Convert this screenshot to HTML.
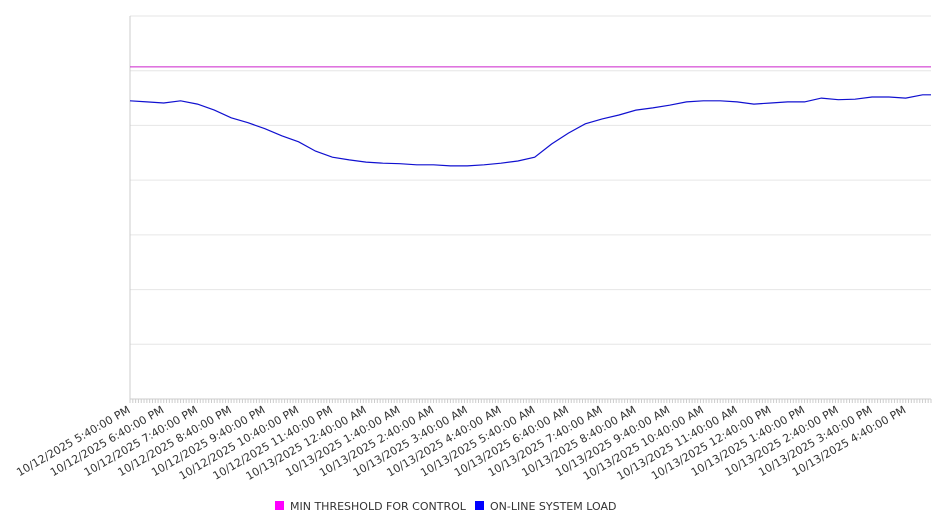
<!DOCTYPE html>
<html><head><meta charset="utf-8"><style>
body{margin:0;background:#fff;font-family:"DejaVu Sans","Liberation Sans",sans-serif}
svg text{font-family:"DejaVu Sans","Liberation Sans",sans-serif}
</style></head><body>
<svg id="chart" width="946" height="526" xmlns="http://www.w3.org/2000/svg"></svg>
<script>
const tickLabels=["10/12/2025 5:40:00 PM","10/12/2025 6:40:00 PM","10/12/2025 7:40:00 PM","10/12/2025 8:40:00 PM","10/12/2025 9:40:00 PM","10/12/2025 10:40:00 PM","10/12/2025 11:40:00 PM","10/13/2025 12:40:00 AM","10/13/2025 1:40:00 AM","10/13/2025 2:40:00 AM","10/13/2025 3:40:00 AM","10/13/2025 4:40:00 AM","10/13/2025 5:40:00 AM","10/13/2025 6:40:00 AM","10/13/2025 7:40:00 AM","10/13/2025 8:40:00 AM","10/13/2025 9:40:00 AM","10/13/2025 10:40:00 AM","10/13/2025 11:40:00 AM","10/13/2025 12:40:00 PM","10/13/2025 1:40:00 PM","10/13/2025 2:40:00 PM","10/13/2025 3:40:00 PM","10/13/2025 4:40:00 PM"];
const loadMinutes=[0,30,60,90,120,150,180,210,240,270,300,330,360,390,420,450,480,510,540,570,600,630,660,690,720,750,780,810,840,870,900,930,960,990,1020,1050,1080,1110,1140,1170,1200,1230,1260,1290,1320,1350,1380,1410,1425];
const loadValues=[5.45,5.43,5.41,5.45,5.39,5.28,5.14,5.05,4.94,4.81,4.70,4.53,4.42,4.37,4.33,4.31,4.30,4.28,4.28,4.26,4.26,4.28,4.31,4.35,4.42,4.66,4.86,5.03,5.12,5.19,5.28,5.32,5.37,5.43,5.45,5.45,5.43,5.39,5.41,5.43,5.43,5.50,5.47,5.48,5.52,5.52,5.50,5.56,5.56];
const thresholdValue=6.07;
const yMax=7, xMax=1425;
const L=130,R=931,T=16,B=399;
const NS="http://www.w3.org/2000/svg";
const svg=document.getElementById('chart');
function el(t,a){const e=document.createElementNS(NS,t);for(const k in a)e.setAttribute(k,a[k]);svg.appendChild(e);return e;}
function xs(m){return L+(m/xMax)*(R-L);}
function ys(v){return B-(v/yMax)*(B-T);}
for(let i=1;i<=yMax;i++){const g=el('line',{x1:L,x2:R,y1:ys(i),y2:ys(i),stroke:'#e6e6e6','stroke-width':1});

}
const ya=el('line',{x1:L,x2:L,y1:T,y2:B,stroke:'#ccc','stroke-width':1});


const xa=el('line',{x1:L,x2:R,y1:B,y2:B,stroke:'#ccc','stroke-width':1});


for(let m=0;m<=xMax;m+=5){const t=el('line',{x1:xs(m),x2:xs(m),y1:B,y2:B+4,stroke:'#ccc','stroke-width':1});

}
tickLabels.forEach((s,i)=>{const x=xs(i*60)+1,y=B+13;
const t=el('text',{x:x,y:y,'text-anchor':'end','font-size':11,fill:'#333',transform:`rotate(-30 ${x} ${y})`});
t.textContent=s;

});
const th=el('line',{x1:L,x2:R,y1:ys(thresholdValue),y2:ys(thresholdValue),stroke:'#cc22cc','stroke-width':1});


const pts=loadMinutes.map((m,i)=>xs(m).toFixed(1)+','+ys(loadValues[i]).toFixed(1)).join(' ');
const ln=el('polyline',{points:pts,fill:'none',stroke:'#1010d0','stroke-width':1.2});


const legend=[["#ff00ff","MIN THRESHOLD FOR CONTROL",275],["#0000ff","ON-LINE SYSTEM LOAD",475]];
legend.forEach(([c,s,x],i)=>{const r=el('rect',{x:x,y:501,width:9,height:9,fill:c});


const t=el('text',{x:x+15,y:510,'font-size':11,fill:'#333'});t.textContent=s;

});
</script>
</body></html>
